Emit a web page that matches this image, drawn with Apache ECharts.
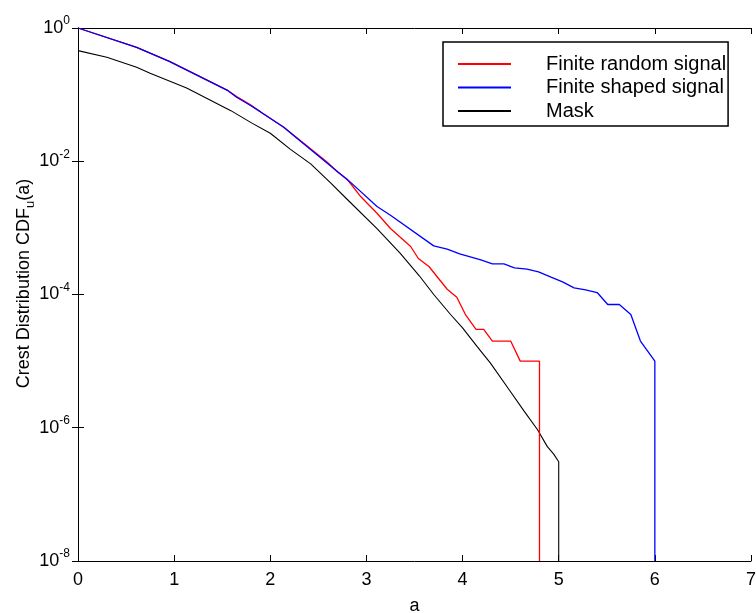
<!DOCTYPE html>
<html><head><meta charset="utf-8">
<script src="https://cdn.jsdelivr.net/npm/echarts@6/dist/echarts.min.js"></script>
<style>html,body{margin:0;padding:0;background:#fff}#c{width:756px;height:613px}</style>
</head><body><div id="c"></div>
<script>
// Finite random signal (red)
const randomA = [0, 0.61, 0.95, 1.55, 1.65, 1.79, 1.90, 2.14, 2.28, 2.59, 2.70, 2.80, 2.94, 3.11, 3.25, 3.46, 3.54, 3.65, 3.84, 3.94, 4.03, 4.14, 4.22, 4.31, 4.50, 4.60, 4.80, 4.80];
const randomV = [1, 0.513, 0.316, 0.117, 0.0933, 0.0708, 0.055, 0.0324, 0.0224, 0.00977, 0.00692, 0.00537, 0.00295, 0.00166, 0.000977, 0.000525, 0.000347, 0.000263, 0.00012, 0.0000912, 0.00005, 0.00003, 0.00003, 0.00002, 0.00002, 0.00001, 0.00001, 1e-8];
// Finite shaped signal (blue)
const shapedA = [0, 0.61, 0.95, 1.55, 1.65, 1.79, 1.90, 2.14, 2.28, 2.83, 3.11, 3.25, 3.70, 3.84, 3.97, 4.19, 4.31, 4.43, 4.54, 4.67, 4.79, 4.92, 5.04, 5.16, 5.28, 5.40, 5.51, 5.63, 5.75, 5.85, 6.0, 6.0];
const shapedV = [1, 0.513, 0.316, 0.117, 0.0912, 0.0692, 0.055, 0.0324, 0.0219, 0.0049, 0.00209, 0.00155, 0.000537, 0.000479, 0.000407, 0.000331, 0.000288, 0.000288, 0.000251, 0.00024, 0.000219, 0.000182, 0.000155, 0.000126, 0.000117, 0.000107, 0.0000708, 0.0000708, 0.00005, 0.00002, 0.00001, 1e-8];
// Mask (black)
const maskA = [0, 0.30, 0.61, 0.75, 1.13, 1.59, 1.80, 2.0, 2.21, 2.42, 2.63, 2.82, 3.11, 3.35, 3.55, 3.70, 3.875, 4.0, 4.15, 4.29, 4.47, 4.64, 4.78, 4.88, 4.95, 5.0, 5.0];
const maskV = [0.457, 0.363, 0.257, 0.209, 0.126, 0.0575, 0.038, 0.0263, 0.0151, 0.00912, 0.00468, 0.00251, 0.000977, 0.000417, 0.000191, 0.0001, 0.0000501, 0.0000316, 0.0000166, 0.00000933, 0.00000398, 0.00000178, 9.33e-7, 5.25e-7, 3.98e-7, 3.09e-7, 1e-8];

const seriesNames = ['Finite random signal', 'Finite shaped signal', 'Mask'];
const xTicks = [0, 1, 2, 3, 4, 5, 6, 7];

const zip = (a, v) => a.map((x, i) => [x, v[i]]);
const FONT = "'Liberation Sans', Arial, sans-serif";

const chart = echarts.init(document.getElementById('c'), null, {renderer: 'canvas'});
const axisCommon = {
  axisLine: {show: true, lineStyle: {color: '#000', width: 1}},
  axisTick: {show: true, inside: true, length: 6, lineStyle: {color: '#000', width: 1}},
  splitLine: {show: false}
};
chart.setOption({
  animation: false,
  backgroundColor: '#fff',
  grid: {left: 78, right: 5, top: 28, bottom: 52, containLabel: false, outerBoundsMode: 'none'},
  xAxis: [
    Object.assign({}, axisCommon, {
      type: 'value', min: xTicks[0], max: xTicks[xTicks.length - 1], interval: 1, position: 'bottom',
      name: 'a', nameLocation: 'middle', nameGap: 36, nameMoveOverlap: false,
      nameTextStyle: {fontFamily: FONT, fontSize: 18, color: '#000'},
      axisLabel: {fontFamily: FONT, fontSize: 18, color: '#000', margin: 10}
    }),
    Object.assign({}, axisCommon, {
      type: 'value', min: 0, max: 7, interval: 1, position: 'top', axisLabel: {show: false}
    })
  ],
  yAxis: [
    Object.assign({}, axisCommon, {
      type: 'log', logBase: 10, min: 1e-8, max: 1, interval: 2, position: 'left',
      name: '{n|Crest Distribution CDF}{s|u}{n|(a)}', nameLocation: 'middle', nameGap: 41, nameMoveOverlap: false,
      nameTextStyle: {fontFamily: FONT, color: '#000', padding: [0, 0, 0, 22], rich: {
        n: {fontFamily: FONT, fontSize: 18, color: '#000'},
        s: {fontFamily: FONT, fontSize: 13, color: '#000', padding: [12, 0, 0, 0]}
      }},
      axisLabel: {
        margin: 8, color: '#000',
        formatter: function (v) { const e = Math.round(Math.log10(v)); return '{b|10}{e|' + e + '}'; },
        rich: {
          b: {fontFamily: FONT, fontSize: 18, color: '#000'},
          e: {fontFamily: FONT, fontSize: 12, color: '#000', padding: [0, 0, 14, 0]}
        }
      }
    }),
    Object.assign({}, axisCommon, {
      type: 'log', logBase: 10, min: 1e-8, max: 1, interval: 2, position: 'right', axisLabel: {show: false}
    })
  ],
  legend: {
    orient: 'vertical', left: 443, top: 42,
    padding: [12, 2, 5, 14], itemGap: 3.5, itemWidth: 53, itemHeight: 14,
    borderColor: '#000', borderWidth: 1.5, backgroundColor: '#fff',
    itemStyle: {opacity: 0},
    textStyle: {fontFamily: FONT, fontSize: 20, color: '#000', padding: [0, 0, 0, 30]},
    data: seriesNames
  },
  series: [
    {name: seriesNames[0], type: 'line', data: zip(randomA, randomV), color: '#ff0000', symbol: 'none', lineStyle: {width: 1.3, color: '#ff0000'}, z: 3},
    {name: seriesNames[1], type: 'line', data: zip(shapedA, shapedV), color: '#0000ff', symbol: 'none', lineStyle: {width: 1.3, color: '#0000ff'}, z: 4},
    {name: seriesNames[2], type: 'line', data: zip(maskA, maskV), color: '#000000', symbol: 'none', lineStyle: {width: 1.1, color: '#000000'}, z: 2}
  ]
});
</script>
</body></html>
